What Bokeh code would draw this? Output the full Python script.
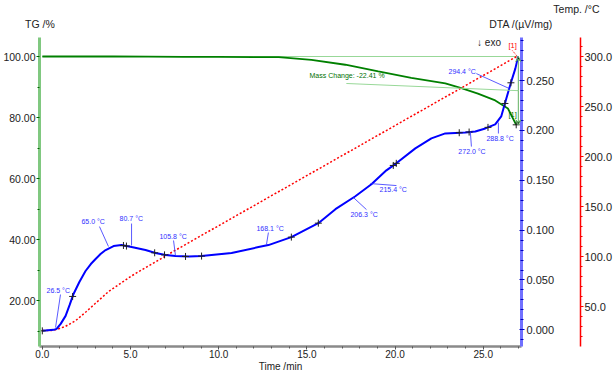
from bokeh.plotting import figure
from bokeh.models import (Range1d, LinearAxis, Label, Arrow, VeeHead, Title,
                          FixedTicker, PrintfTickFormatter)
from bokeh.core.properties import value
from bokeh.embed import file_html
from bokeh.resources import INLINE
import numpy as np

# ---------------- data ----------------
time_ticks = [0, 5, 10, 15, 20, 25]
time_minor = list(range(0, 28))
tg_ticks = [20, 40, 60, 80, 100]
tg_minor = [10, 30, 50, 70, 90]
dta_ticks = [0.0, 0.05, 0.10, 0.15, 0.20, 0.25]
dta_minor = [round(0.01 * i - 0.01, 3) for i in range(0, 31)]
temp_ticks = [50, 100, 150, 200, 250, 300]
temp_minor = list(range(20, 320, 10))

tg_time = [0, 2, 4, 6, 8, 10, 12, 13.4, 15.26, 17.18, 19.05, 20.92, 22.85,
           23.76, 24.7, 25.68, 26.4, 26.87]
tg_pct = [100, 100, 100, 99.95, 99.9, 99.85, 99.8, 99.77, 98.9, 97.3, 95.1,
          93.0, 91.2, 89.6, 87.8, 85.6, 82.95, 77.6]

dta_time = [0.0, 0.64, 0.81, 1.04, 1.32, 1.55, 1.77, 2.1, 2.45, 2.75, 3.02,
            3.3, 3.59, 4.04, 4.49, 5.06, 5.85, 6.42, 6.99, 7.55, 8.3, 9.03,
            10.73, 12.26, 12.82, 14.12, 15.65, 16.62, 17.75, 18.66, 19.51,
            20.07, 21.15, 22.06, 22.85, 23.98, 24.55, 25.12, 25.68, 26.02,
            26.31, 26.59, 26.82, 26.98]
dta_val = [-0.001, 0.000, 0.001, 0.006, 0.014, 0.025, 0.036, 0.048, 0.059,
           0.066, 0.071, 0.076, 0.080, 0.084, 0.085, 0.083, 0.080, 0.077,
           0.075, 0.074, 0.0735, 0.074, 0.077, 0.083, 0.085, 0.093, 0.107,
           0.121, 0.134, 0.146, 0.160, 0.167, 0.182, 0.192, 0.197, 0.198,
           0.199, 0.202, 0.206, 0.214, 0.232, 0.249, 0.262, 0.274]

temp_time = [0.0, 0.5, 0.8, 1.3, 1.9, 2.5, 3.0, 3.76, 5.07, 7.5, 26.9]
temp_c = [26, 26, 27, 30, 36, 45, 53, 65, 80.7, 105.8, 300]

mark_time = [0.0, 1.72, 4.6, 4.77, 6.37, 6.93, 8.12, 9.03, 14.12, 15.65,
             19.9, 20.07, 23.64, 24.2, 25.27, 26.23, 26.57]

peak_text = ["26.5 °C", "65.0 °C", "80.7 °C", "105.8 °C", "168.1 °C",
             "206.3 °C", "215.4 °C", "272.0 °C", "288.8 °C", "294.4 °C"]
peak_tx = [0.24, 2.22, 4.38, 6.64, 12.14, 17.47, 19.12, 23.59, 25.18, 23.03]
peak_ty = [0.0394, 0.1086, 0.1116, 0.0936, 0.1016, 0.1156, 0.1407, 0.1788,
           0.1919, 0.2591]
lead_x0 = [1.03, 3.24, 5.06, 7.44, 12.82, 18.38, 18.6, 24.33, 25.86, 24.61]
lead_y0 = [0.0354, 0.1036, 0.1066, 0.0896, 0.0976, 0.1206, 0.1467, 0.1838,
           0.1969, 0.2570]
lead_x1 = [0.75, 3.75, 5.06, 7.55, 12.71, 17.64, 20.08, 24.27, 25.86, 26.48]
lead_y1 = [0.0023, 0.0836, 0.0846, 0.0745, 0.0856, 0.1327, 0.1447, 0.1989,
           0.2079, 0.2420]

tg_title, dta_title, temp_title = "TG /%", "DTA /(µV/mg)", "Temp. /°C"
mass_change_text = "Mass Change: -22.41 %"
tg_start, tg_end, step_time = 100.0, 77.6, 26.99

FONT = "Liberation Sans"

p = figure(frame_width=482, frame_height=309, title=None,
           x_range=Range1d(-0.16, 27.17), y_range=Range1d(4.92, 106.23),
           output_backend="svg", toolbar_location=None,
           min_border_left=33, min_border_right=91, min_border_top=37,
           min_border_bottom=29, outline_line_color=None,
           background_fill_color="white", border_fill_color="white")
p.grid.visible = False

p.extra_y_ranges = {"dta": Range1d(-0.0167, 0.2932),
                    "temp": Range1d(10, 319)}
# frame expressed in page pixels, used only to place the two upper titles
p.extra_x_ranges = {"px": Range1d(40.5, 523.5)}


def style_axis(ax, ticks, minor, fmt, line_color, line_width, tick_color,
               size="10.5px"):
    ax.ticker = FixedTicker(ticks=ticks, minor_ticks=minor)
    ax.formatter = PrintfTickFormatter(format=fmt)
    ax.axis_line_color = line_color
    ax.axis_line_width = line_width
    ax.major_tick_line_color = tick_color
    ax.minor_tick_line_color = tick_color
    ax.major_label_text_font = FONT
    ax.major_label_text_font_size = size
    ax.major_label_text_color = "#222222"
    ax.major_tick_out = 3
    ax.major_tick_in = 0
    ax.minor_tick_out = 2
    ax.minor_tick_in = 0
    ax.major_label_standoff = 1


xa = p.xaxis[0]
style_axis(xa, time_ticks, time_minor, "%.1f", "#8a8a8a", 2.5, "#555555",
           "10px")
xa.major_label_standoff = 0
xa.axis_label = "Time /min"
xa.axis_label_text_font = FONT
xa.axis_label_text_font_size = "10px"
xa.axis_label_text_font_style = "normal"
xa.axis_label_text_color = "#222222"
xa.axis_label_standoff = 0

ya = p.yaxis[0]
style_axis(ya, tg_ticks, tg_minor, "%.2f", "#80c880", 3, "#006400")

dta_axis = LinearAxis(y_range_name="dta")
style_axis(dta_axis, dta_ticks, dta_minor, "%.3f", "#7070ff", 3, "#0000c0",
           "11px")
dta_axis.major_tick_in = 2
dta_axis.minor_tick_in = 1
dta_axis.major_label_standoff = 2
dta_axis.axis_label = "DTA"
dta_axis.axis_label_text_alpha = 0
dta_axis.axis_label_text_font_size = "14px"
dta_axis.axis_label_standoff = 4
p.add_layout(dta_axis, "right")

temp_axis = LinearAxis(y_range_name="temp")
style_axis(temp_axis, temp_ticks, temp_minor, "%.1f", "#ff0000", 1.5,
           "#ff0000", "11px")
p.add_layout(temp_axis, "right")

# upper titles: TG and DTA on one row, Temp. above
top_axis = LinearAxis(x_range_name="px",
                      ticker=FixedTicker(ticks=[41, 523], minor_ticks=[]),
                      major_label_overrides={41: tg_title, 523: dta_title})
top_axis.axis_line_color = None
top_axis.major_tick_line_color = None
top_axis.minor_tick_line_color = None
top_axis.major_tick_out = 0
top_axis.major_tick_in = 0
top_axis.major_label_standoff = 8
top_axis.major_label_text_font = FONT
top_axis.major_label_text_font_size = "10.5px"
top_axis.major_label_text_color = "#222222"
p.add_layout(top_axis, "above")

p.add_layout(Title(text=temp_title, align="right", offset=-78, standoff=0,
                   text_font=FONT, text_font_size="10.5px",
                   text_font_style="normal", text_color="#222222"), "above")

# ---------------- curves ----------------
p.line([0, step_time], [tg_start, tg_start], color="#98d898", line_width=1.2)
p.line(tg_time, tg_pct, color="#008000", line_width=1.8)
p.line(temp_time, temp_c, y_range_name="temp", color="#ff0000",
       line_dash="2 2", line_width=1.5)
p.line(dta_time, dta_val, y_range_name="dta", color="#0000ff", line_width=2)

mark_val = np.interp(mark_time, dta_time, dta_val)
p.scatter(mark_time, mark_val, y_range_name="dta", marker="cross", size=7,
          color="#202020", line_width=1)
p.scatter([tg_time[-1]], [tg_pct[-1]], marker="cross", size=7,
          color="#202020", line_width=1)

# peak annotations
p.segment(lead_x0, lead_y0, lead_x1, lead_y1, y_range_name="dta",
          color="#3030ff", line_width=0.8)
p.text(peak_tx, peak_ty, text=peak_text, y_range_name="dta",
       text_font=value(FONT), text_font_size="7px", text_color="#3030ff",
       text_baseline="middle")

# mass change annotation
mid = (tg_start + tg_end) / 2
for yend in (tg_start, tg_end):
    p.add_layout(Arrow(x_start=step_time, y_start=mid, x_end=step_time,
                       y_end=yend,
                       end=VeeHead(size=5, line_color="#60b060",
                                   line_width=1),
                       line_color="#60b060", line_width=1))
p.line([17.24, step_time], [91.15, mid], color="#98d898", line_width=1)
p.add_layout(Label(x=15.15, y=93.77, text=mass_change_text,
                   text_font=FONT, text_font_size="7px",
                   text_color="#007000", text_baseline="middle"))
p.add_layout(Label(x=26.43, y=80.98, text="[1]", text_font=FONT,
                   text_font_size="7.5px", text_color="#007000",
                   text_baseline="middle"))
p.add_layout(Label(x=26.43, y=311, y_range_name="temp", text="[1]",
                   text_font=FONT, text_font_size="7.5px",
                   text_color="#ff0000", text_baseline="middle"))
p.line([26.65, 26.94], [306, 300], y_range_name="temp", color="#ff0000",
       line_dash="1 1", line_width=1)
p.add_layout(Label(x=24.65, y=104.6, text="↓ exo", text_font=FONT,
                   text_font_size="10px", text_color="#222222",
                   text_baseline="middle"))

open("out.html", "w").write(file_html(p, INLINE))
